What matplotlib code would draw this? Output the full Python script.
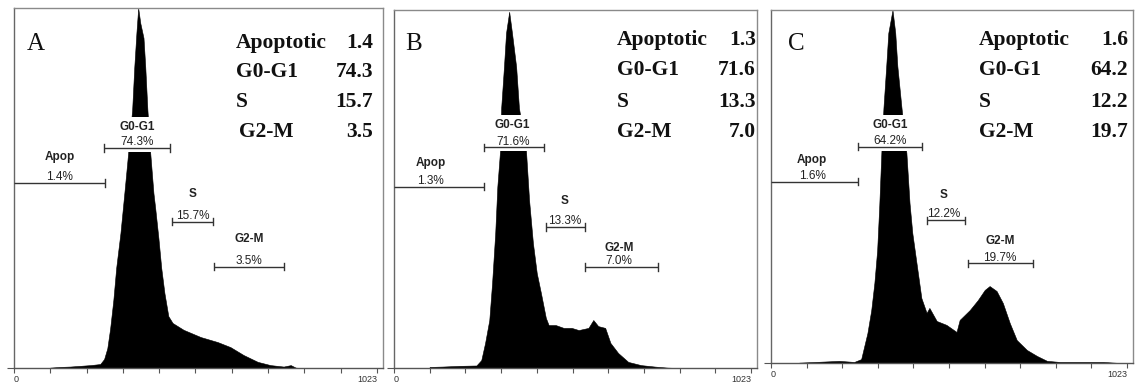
import matplotlib
matplotlib.use('Agg')
import matplotlib.pyplot as plt

# ---------------- data ----------------
panel_letters = ['A', 'B', 'C']
phase_labels = ['Apoptotic', 'G0-G1', 'S', 'G2-M']
phase_pct_A = [1.4, 74.3, 15.7, 3.5]
phase_pct_B = [1.3, 71.6, 13.3, 7.0]
phase_pct_C = [1.6, 64.2, 12.2, 19.7]

gate_names = ['Apop', 'G0-G1', 'S', 'G2-M']
gate_pct_A = ['1.4%', '74.3%', '15.7%', '3.5%']
gate_pct_B = ['1.3%', '71.6%', '13.3%', '7.0%']
gate_pct_C = ['1.6%', '64.2%', '12.2%', '19.7%']
gate_start_A = [0, 254, 446, 565]
gate_end_A = [257, 441, 562, 760]
gate_level_A = [51.4, 61.1, 40.6, 28.1]
gate_start_B = [0, 259, 435, 548]
gate_end_B = [259, 429, 546, 756]
gate_level_B = [50.6, 61.7, 39.4, 28.2]
gate_start_C = [0, 251, 447, 565]
gate_end_C = [251, 435, 556, 752]
gate_level_C = [51.3, 61.2, 40.5, 28.3]

# DNA content histograms (channel, relative count % of full scale)
channel_A = [102, 130, 158, 187, 215, 243, 254, 263, 271, 280, 288, 300, 311, 319, 333,
             339, 345, 350, 356, 365, 370, 376, 384, 393, 398, 407, 415, 424, 435, 447,
             478, 526, 574, 610, 647, 687, 723, 760, 780, 794, 808]
count_A = [0.1, 0.3, 0.4, 0.6, 0.8, 1.1, 2.5, 5.5, 11.0, 18.9, 27.8, 37.5, 48.6, 56.9, 71.7,
           83.6, 93.1, 100, 95.8, 91.7, 83.6, 71.7, 59.7, 48.6, 44.4, 36.1, 27.8, 20.8, 14.4, 12.5,
           10.6, 8.6, 7.2, 5.8, 3.6, 1.7, 0.8, 0.4, 0.8, 0.1, 0]

channel_B = [102, 139, 188, 236, 250, 261, 273, 281, 290, 296, 304, 307, 315, 321, 330,
             338, 350, 358, 378, 387, 398, 409, 421, 435, 443, 463, 486, 509, 529, 557,
             571, 585, 605, 620, 642, 671, 708, 747, 784, 813]
count_B = [0.3, 0.4, 0.6, 0.7, 2.2, 7.0, 13.4, 23.7, 37.7, 50.6, 60.9, 72.6, 84.1, 93.6, 99.5,
           93.6, 84.1, 72.6, 60.9, 46.9, 34.9, 26.5, 20.9, 14.0, 12.0, 12.0, 11.2, 11.2, 10.6, 11.2,
           13.4, 11.7, 11.2, 7.0, 4.2, 1.7, 0.8, 0.4, 0.1, 0]

channel_C = [81, 196, 239, 259, 268, 277, 288, 297, 305, 311, 317, 323, 331, 337, 349,
             357, 363, 375, 389, 398, 406, 418, 432, 447, 455, 476, 504, 533, 542, 571,
             594, 614, 628, 648, 666, 686, 706, 735, 764, 793, 830, 908, 954, 1003]
count_C = [0.1, 0.6, 0.3, 1.1, 4.8, 8.5, 15.0, 22.7, 32.0, 44.5, 59.5, 72.2, 84.1, 93.5, 100,
           93.5, 84.1, 72.2, 59.5, 45.3, 36.8, 28.3, 18.4, 14.2, 15.6, 11.9, 10.8, 8.8, 12.2, 15.0,
           17.8, 20.7, 21.8, 20.4, 17.0, 11.3, 6.5, 3.7, 2.0, 0.6, 0.3, 0.3, 0.3, 0]

tick_channels = [102.3 * k for k in range(11)]
tick_labels = ['0', '', '', '', '', '', '', '', '', '', '1023']

# ---------------- layout ----------------
W, H = 1136, 383
# (left px, top px, right px, bottom px)
boxes = [(14, 8, 383, 368), (394, 10, 757, 368), (771, 10, 1133, 363)]
panels = [
    dict(channel=channel_A, count=count_A, pct=phase_pct_A, gpct=gate_pct_A,
         gs=gate_start_A, ge=gate_end_A, gl=gate_level_A,
         name_x=[128, 347, 504, 662], name_off=[19, 15, 20, 20],
         letter=(0.035, 0.883), tab_left=0.602, tab_right=0.973,
         rows=[0.889, 0.808, 0.725, 0.642], g2m_indent=0.008),
    dict(channel=channel_B, count=count_B, pct=phase_pct_B, gpct=gate_pct_B,
         gs=gate_start_B, ge=gate_end_B, gl=gate_level_B,
         name_x=[105, 340, 488, 645], name_off=[17, 16, 19, 14],
         letter=(0.030, 0.888), tab_left=0.614, tab_right=0.997,
         rows=[0.902, 0.818, 0.729, 0.645], g2m_indent=0.0),
    dict(channel=channel_C, count=count_C, pct=phase_pct_C, gpct=gate_pct_C,
         gs=gate_start_C, ge=gate_end_C, gl=gate_level_C,
         name_x=[118, 343, 495, 658], name_off=[16, 16, 18, 16],
         letter=(0.047, 0.887), tab_left=0.575, tab_right=0.986,
         rows=[0.901, 0.816, 0.725, 0.640], g2m_indent=0.0),
]

fig = plt.figure(figsize=(W / 100, H / 100), dpi=100)
serif = ['Liberation Serif', 'DejaVu Serif']
sans = ['Liberation Sans', 'DejaVu Sans']

for letter, box, p in zip(panel_letters, boxes, panels):
    l, t, r, b = box
    ax = fig.add_axes([l / W, (H - b) / H, (r - l) / W, (b - t) / H])
    ax.set_xlim(0, 1040)
    ax.set_ylim(0, 100)
    ax.fill_between(p['channel'], p['count'], 0, color='black', linewidth=0.4,
                    edgecolor='black', zorder=2)
    for name, sp in ax.spines.items():
        sp.set_color('#8a8a8a')
        sp.set_linewidth(1.0)
    ax.spines['bottom'].set_color('#555555')
    ax.spines['left'].set_color('#666666')
    ax.set_xticks(tick_channels)
    ax.set_xticklabels(tick_labels, fontsize=6.5, color='#333333', family=sans)
    lbls = ax.get_xticklabels()
    lbls[0].set_ha('left')
    lbls[-1].set_ha('right')
    ax.tick_params(axis='x', direction='out', length=3.5, width=0.8, color='#555555', pad=1.5)
    ax.set_yticks([0])
    ax.set_yticklabels([''])
    ax.tick_params(axis='y', direction='out', length=5, width=0.8, color='#555555')

    # panel letter
    ax.text(p['letter'][0], p['letter'][1], letter, transform=ax.transAxes,
            family=serif, fontsize=18, ha='left', va='baseline', color='#111111')

    # summary table
    for i, (lab, val) in enumerate(zip(phase_labels, p['pct'])):
        indent = p['g2m_indent'] if i == 3 else 0.0
        ax.text(p['tab_left'] + indent, p['rows'][i], lab, transform=ax.transAxes,
                family=serif, fontweight='bold', fontsize=15.5, ha='left', va='baseline',
                color='#111111')
        ax.text(p['tab_right'], p['rows'][i], f'{val:.1f}', transform=ax.transAxes,
                family=serif, fontweight='bold', fontsize=15.5, ha='right', va='baseline',
                color='#111111')

    # gates
    for i in range(4):
        x0, x1, y = p['gs'][i], p['ge'][i], p['gl'][i]
        ax.plot([x0, x1], [y, y], color='#333333', lw=1.0, zorder=7,
                solid_capstyle='butt')
        ends = [x1] if x0 == 0 else [x0, x1]
        for xe in ends:
            ax.plot([xe, xe], [y - 1.0, y + 1.0], color='#333333', lw=1.0, zorder=7)
        cx = p['name_x'][i]
        ax.annotate(gate_names[i], xy=(cx, y), xytext=(0, p['name_off'][i]),
                    textcoords='offset points', ha='center', va='center', fontsize=8.5,
                    fontweight='bold', family=sans, color='#222222', zorder=5,
                    bbox=dict(fc='white', ec='none', pad=3.0) if i == 1 else None)
        ax.annotate(p['gpct'][i], xy=(cx, y), xytext=(0, 4.0), textcoords='offset points',
                    ha='center', va='center', fontsize=8.5, family=sans, color='#222222',
                    zorder=6,
                    bbox=dict(fc='white', ec='none', pad=2.5) if i == 1 else None)

fig.savefig('out.png', dpi=100, facecolor='white')
